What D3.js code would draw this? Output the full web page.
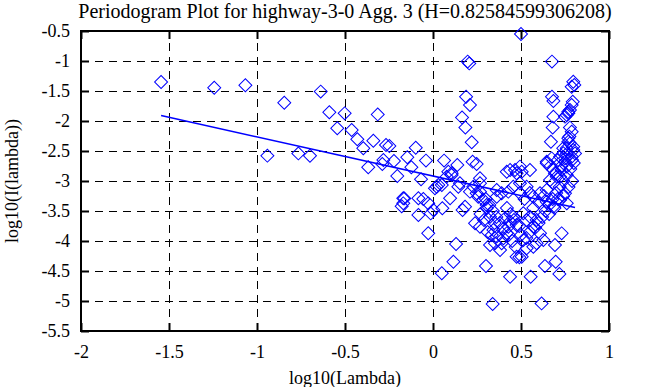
<!DOCTYPE html>
<html>
<head>
<meta charset="utf-8">
<script src="https://cdn.jsdelivr.net/npm/d3@7"></script>
<style>
  html, body { margin: 0; padding: 0; background: #fff; }
  svg { display: block; }
  svg text { font-family: "Liberation Serif", "DejaVu Serif", serif; fill: #000; }
</style>
</head>
<body>
<svg id="viz"></svg>
<script>
// --- Data (log10 values) ---
const logLambda = [
  -1.545, -1.243, -1.066, -0.845, -0.638, -0.589, -0.502, -0.314, -0.544, -0.462,
  -0.430, -0.396, -0.339, -0.267, -0.248, -0.941, -0.765, -0.699, -0.368, -0.288,
  -0.222, -0.203, -0.146, -0.098, -0.123, -0.068, -0.040, 0.063, 0.021, -0.163,
  -0.178, -0.055, -0.083, -0.013, 0.053, -0.027, -0.282, 0.138, 0.087, 0.106,
  0.225, 0.248, 0.267, 0.438, 0.494, 0.504, 0.475, 0.551, 0.646, 0.665,
  0.684, 0.693, 0.106, 0.078, 0.030, 0.011, 0.153, 0.144, 0.210, 0.248,
  0.267, 0.257, 0.267, 0.362, 0.390, 0.428, 0.456, 0.494, 0.532, 0.494,
  0.466, 0.570, 0.608, 0.646, 0.684, 0.722, 0.750, 0.722, 0.760, 0.684,
  0.646, 0.722, 0.750, 0.760, 0.731, 0.703, 0.665, 0.646, -0.169, -0.027,
  0.002, 0.097, 0.168, 0.239, 0.267, 0.305, 0.324, 0.343, 0.362, 0.334,
  0.352, 0.324, 0.381, 0.419, 0.409, 0.438, 0.428, 0.456, 0.475, 0.513,
  0.532, 0.551, 0.570, 0.589, 0.608, 0.627, 0.589, 0.570, 0.532, 0.513,
  0.504, 0.475, 0.390, 0.400, 0.731, 0.693, 0.131, 0.116, 0.050, 0.301,
  0.438, 0.555, 0.636, 0.697, 0.718, 0.339, 0.617, -0.169, -0.083, 0.491,
  0.419, 0.050, 0.182, 0.229, 0.286, 0.305, 0.362, 0.500, 0.197, 0.206,
  0.676, 0.797, 0.803, 0.788, 0.188, 0.210, 0.165, 0.184, 0.220, 0.676,
  0.684, 0.794, 0.778, 0.769, 0.684, 0.750, 0.680, 0.778, 0.775, 0.670,
  0.769, 0.797, 0.740, 0.807, 0.788, 0.769, 0.760, 0.788, 0.769, 0.778,
  0.760, 0.797, 0.741, 0.788, 0.750, 0.674, 0.600, 0.620, 0.640, 0.660,
  0.680, 0.700, 0.720, 0.740, 0.760, 0.780, 0.800, 0.550, 0.580, 0.530,
  0.570, 0.600, 0.630, 0.520, 0.550, 0.660, 0.690, 0.710, 0.740, 0.770,
  0.790, 0.710, 0.730, 0.760, 0.790, 0.300, 0.320, 0.340, 0.360, 0.380,
  0.400, 0.430, 0.450, 0.470, 0.420, 0.440, 0.460, 0.490, 0.500, 0.310,
  0.290, 0.270, 0.350
];
const logI = [
  -1.350, -1.445, -1.405, -1.695, -1.510, -1.855, -1.872, -1.890, -2.120, -2.150,
  -2.305, -2.455, -2.330, -2.400, -2.417, -2.578, -2.540, -2.580, -2.770, -2.717,
  -2.667, -2.917, -2.605, -2.445, -2.770, -2.970, -2.660, -2.660, -3.095, -3.290,
  -3.420, -3.300, -3.567, -3.540, -3.455, -3.870, -2.650, -2.733, -2.845, -2.870,
  -2.678, -2.717, -2.955, -2.817, -2.760, -2.845, -2.870, -2.817, -2.678, -2.760,
  -2.817, -2.870, -2.900, -2.928, -3.067, -3.122, -3.038, -3.095, -3.178, -3.205,
  -3.178, -3.262, -3.038, -3.150, -3.205, -3.178, -3.095, -3.038, -3.095, -3.205,
  -2.817, -3.262, -3.205, -3.150, -3.038, -2.928, -3.205, -3.317, -3.372, -3.428,
  -3.345, -2.595, -2.678, -2.760, -2.817, -2.928, -2.983, -2.705, -3.372, -3.372,
  -3.483, -3.288, -3.483, -3.705, -3.762, -3.455, -3.595, -3.817, -3.928, -3.900,
  -4.038, -4.067, -4.150, -3.872, -3.622, -3.678, -3.762, -3.595, -3.733, -3.538,
  -3.650, -3.595, -3.762, -3.650, -3.872, -3.983, -4.038, -4.095, -4.122, -3.983,
  -4.262, -4.262, -4.038, -3.955, -3.872, -4.067, -4.050, -4.345, -4.538, -4.417,
  -4.595, -4.595, -4.417, -4.345, -4.550, -5.050, -5.040, -3.288, -3.288, -4.270,
  -2.845, -3.067, -3.428, -3.095, -3.317, -3.400, -3.262, -0.550, -1.010, -1.040,
  -1.010, -1.345, -1.400, -1.430, -1.595, -1.733, -1.940, -2.110, -2.355, -1.595,
  -1.667, -1.678, -1.817, -1.872, -1.928, -1.928, -2.110, -2.110, -2.260, -2.345,
  -2.345, -2.428, -2.455, -2.540, -1.733, -1.845, -1.900, -2.178, -2.288, -2.372,
  -2.455, -2.483, -2.538, -2.595, -2.622, -2.622, -3.700, -3.600, -3.500, -3.400,
  -3.300, -3.200, -3.100, -3.000, -2.900, -2.800, -2.700, -3.850, -3.780, -3.950,
  -3.450, -3.350, -3.250, -3.300, -3.200, -3.550, -3.450, -3.300, -3.250, -3.100,
  -3.000, -2.650, -2.750, -2.550, -2.650, -3.300, -3.400, -3.500, -3.600, -3.700,
  -3.800, -3.900, -4.000, -4.100, -3.450, -3.550, -3.650, -3.750, -3.900, -3.850,
  -3.650, -3.550, -3.700
];
// least-squares fit line end points
const fitX = [-1.545, 0.807];
const fitY = [-1.910, -3.443];

const xTicks = [-2, -1.5, -1, -0.5, 0, 0.5, 1];
const yTicks = [-5.5, -5, -4.5, -4, -3.5, -3, -2.5, -2, -1.5, -1, -0.5];

const titleText = "Periodogram Plot for highway-3-0 Agg. 3 (H=0.82584599306208)";

// --- Layout ---
const width = 653;
const height = 387;
const margin = { top: 31, right: 44, bottom: 56, left: 81 };
const blue = "#0000ff";

const svg = d3.select("#viz")
  .attr("width", width)
  .attr("height", height);

svg.append("rect")
  .attr("width", width)
  .attr("height", height)
  .attr("fill", "white");

const x = d3.scaleLinear().domain([-2, 1]).range([margin.left, width - margin.right]);
const y = d3.scaleLinear().domain([-5.5, -0.5]).range([height - margin.bottom, margin.top]);

const x0 = x.range()[0], x1 = x.range()[1];
const y0 = y.range()[0], y1 = y.range()[1];

// --- Grid (dashed) ---
const grid = svg.append("g")
  .attr("stroke", "black")
  .attr("stroke-width", 1)
  .attr("stroke-dasharray", "8,6")
  .attr("shape-rendering", "crispEdges");

grid.selectAll("line.gx")
  .data(xTicks.slice(1, -1))
  .join("line")
  .attr("class", "gx")
  .attr("x1", d => Math.round(x(d)) + 0.5)
  .attr("x2", d => Math.round(x(d)) + 0.5)
  .attr("y1", y0)
  .attr("y2", y1);

grid.selectAll("line.gy")
  .data(yTicks.slice(1, -1))
  .join("line")
  .attr("class", "gy")
  .attr("x1", x0)
  .attr("x2", x1)
  .attr("y1", d => Math.round(y(d)) + 0.5)
  .attr("y2", d => Math.round(y(d)) + 0.5);

// --- Axes with ticks on all four sides ---
const tickLen = 8;
const axes = svg.append("g");

const axBottom = axes.append("g")
  .attr("transform", `translate(0,${y0})`)
  .call(d3.axisBottom(x).tickValues(xTicks).tickSize(-tickLen).tickPadding(14));
const axTop = axes.append("g")
  .attr("transform", `translate(0,${y1})`)
  .call(d3.axisTop(x).tickValues(xTicks).tickSize(-tickLen).tickFormat(""));
const axLeft = axes.append("g")
  .attr("transform", `translate(${x0},0)`)
  .call(d3.axisLeft(y).tickValues(yTicks).tickSize(-tickLen).tickPadding(11));
const axRight = axes.append("g")
  .attr("transform", `translate(${x1},0)`)
  .call(d3.axisRight(y).tickValues(yTicks).tickSize(-tickLen).tickFormat(""));

[axBottom, axTop, axLeft, axRight].forEach(g => {
  g.select(".domain").remove();
  g.attr("font-family", null).attr("font-size", null);
  g.selectAll(".tick line").attr("stroke", "black").attr("stroke-width", 2);
  g.selectAll("text").style("font-size", "18px");
});

// plain hyphen minus like the original
axBottom.selectAll("text").text(d => String(d));
axLeft.selectAll("text").text(d => String(d));

// frame
svg.append("rect")
  .attr("x", x0)
  .attr("y", y1)
  .attr("width", x1 - x0)
  .attr("height", y0 - y1)
  .attr("fill", "none")
  .attr("stroke", "black")
  .attr("stroke-width", 2);

// --- Points (diamonds) ---
const points = logLambda.map((d, i) => ({ lx: d, ly: logI[i] }));
const diamond = d3.symbol().type(d3.symbolSquare).size(84);

svg.append("g")
  .selectAll("path")
  .data(points)
  .join("path")
  .attr("d", diamond)
  .attr("transform", d => `translate(${x(d.lx)},${y(d.ly)}) rotate(45)`)
  .attr("fill", "none")
  .attr("stroke", blue)
  .attr("stroke-width", 1);

// --- Fit line ---
svg.append("path")
  .datum(fitX.map((d, i) => [d, fitY[i]]))
  .attr("d", d3.line().x(d => x(d[0])).y(d => y(d[1])))
  .attr("fill", "none")
  .attr("stroke", blue)
  .attr("stroke-width", 1.5);

// --- Title and axis labels ---
svg.append("text")
  .attr("x", (x0 + x1) / 2)
  .attr("y", 18)
  .attr("text-anchor", "middle")
  .style("font-size", "20px")
  .text(titleText);

svg.append("text")
  .attr("x", (x0 + x1) / 2)
  .attr("y", 384)
  .attr("text-anchor", "middle")
  .style("font-size", "18px")
  .text("log10(Lambda)");

svg.append("text")
  .attr("transform", `translate(18,${(y0 + y1) / 2}) rotate(-90)`)
  .attr("text-anchor", "middle")
  .style("font-size", "18px")
  .text("log10(I(lambda))");
</script>
</body>
</html>
